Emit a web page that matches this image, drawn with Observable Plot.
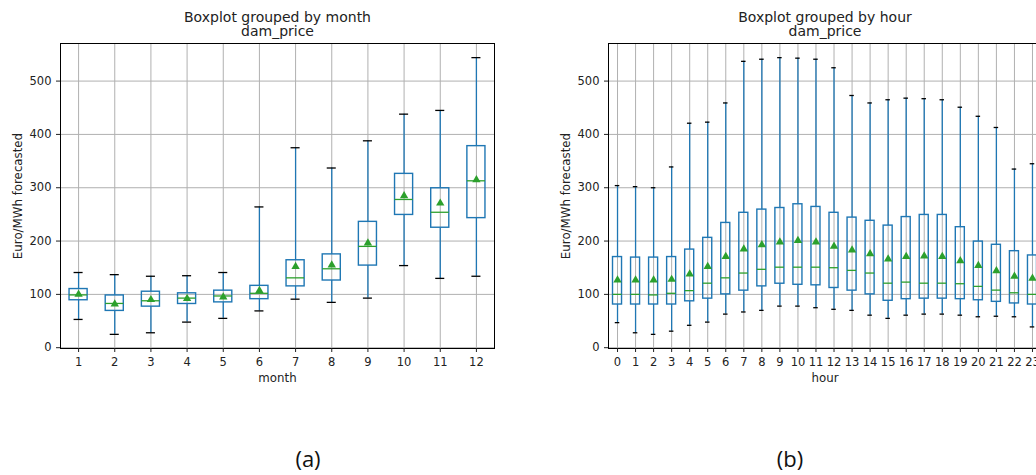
<!DOCTYPE html>
<html><head><meta charset="utf-8">
<script src="https://cdn.jsdelivr.net/npm/d3@7"></script>
<script src="https://cdn.jsdelivr.net/npm/@observablehq/plot@0.6"></script>
<style>
body{margin:0;background:#fff;}
#wrap{position:relative;width:1036px;height:475px;overflow:hidden;background:#fff;}
#a{position:absolute;left:0;top:0;width:520px;}
#b{position:absolute;left:520px;top:0;width:547px;}
#wrap svg{max-width:none !important;}
.cap{position:absolute;top:443px;font-family:"Open Sans",sans-serif;font-size:22px;line-height:30px;color:#111;transform:translateX(-50%);}
</style></head>
<body><div id="wrap"><div id="a"></div><div id="b"></div>
<div class="cap" style="left:308px">(a)</div><div class="cap" style="left:790px">(b)</div></div>
<script>
// ---- Data ----
const months = [1,2,3,4,5,6,7,8,9,10,11,12];
const monthLow  = [53, 25, 28, 48, 55, 69, 91, 85, 93, 154, 130, 134];
const monthQ1   = [89, 69, 77, 82, 85, 91, 115, 126, 154, 249, 225, 243];
const monthMed  = [99, 83, 88, 93, 97, 102, 131, 148, 190, 278, 254, 313];
const monthQ3   = [110, 98, 105, 102, 107, 116, 164, 175, 236, 326, 299, 378];
const monthHigh = [141, 137, 134, 135, 141, 264, 375, 337, 388, 438, 445, 544];
const monthMean = [100, 82, 90, 92, 95, 107, 152, 155, 196, 285, 271, 315];

const hours = [0,1,2,3,4,5,6,7,8,9,10,11,12,13,14,15,16,17,18,19,20,21,22,23];
const hourLow  = [47, 28, 25, 31, 42, 48, 63, 67, 70, 78, 78, 75, 72, 70, 61, 55, 61, 63, 63, 61, 58, 59, 58, 39];
const hourQ1   = [81, 81, 81, 81, 87, 92, 100, 107, 115, 120, 118, 117, 112, 107, 100, 88, 91, 92, 92, 91, 89, 86, 83, 81];
const hourMed  = [100, 100, 99, 102, 107, 121, 131, 140, 147, 151, 151, 151, 150, 145, 140, 121, 123, 121, 121, 120, 115, 108, 103, 100];
const hourQ3   = [170, 169, 169, 170, 184, 206, 234, 253, 259, 262, 269, 264, 253, 244, 238, 229, 245, 249, 249, 226, 199, 193, 181, 173];
const hourHigh = [304, 302, 300, 339, 421, 423, 459, 537, 541, 544, 543, 541, 525, 473, 459, 465, 468, 467, 465, 451, 434, 413, 335, 345];
const hourMean = [127, 127, 127, 128, 138, 152, 171, 185, 193, 198, 201, 198, 190, 183, 176, 166, 171, 172, 171, 163, 154, 144, 134, 130];

const yTicks = [0, 100, 200, 300, 400, 500];

function boxChart({cats, low, q1, med, q3, high, mean, width, marginLeft, marginRight, xDomain, title, xLabel}) {
  const data = cats.map((c, i) => ({c, low: low[i], q1: q1[i], med: med[i], q3: q3[i], high: high[i], mean: mean[i]}));
  const blue = "#1f77b4", green = "#2ca02c";
  return Plot.plot({
    width, height: 400,
    marginLeft, marginRight, marginTop: 43, marginBottom: 52,
    style: {fontFamily: "DejaVu Sans", fontSize: "11.5px", color: "#222", background: "white", overflow: "visible", maxWidth: "none"},
    x: {domain: xDomain},
    y: {domain: [-1.5, 570.5]},
    marks: [
      Plot.gridX({ticks: cats, stroke: "#b0b0b0", strokeOpacity: 1, strokeWidth: 1}),
      Plot.gridY({ticks: yTicks, stroke: "#b0b0b0", strokeOpacity: 1, strokeWidth: 1}),
      Plot.ruleX(data, {x: "c", y1: "low", y2: "q1", stroke: blue, strokeWidth: 1.3}),
      Plot.ruleX(data, {x: "c", y1: "q3", y2: "high", stroke: blue, strokeWidth: 1.3}),
      Plot.rect(data, {x1: d => d.c - 0.25, x2: d => d.c + 0.25, y1: "q1", y2: "q3", fill: "none", stroke: blue, strokeWidth: 1.4}),
      Plot.ruleY(data, {y: "low", x1: d => d.c - 0.125, x2: d => d.c + 0.125, stroke: "black", strokeWidth: 1.3}),
      Plot.ruleY(data, {y: "high", x1: d => d.c - 0.125, x2: d => d.c + 0.125, stroke: "black", strokeWidth: 1.3}),
      Plot.ruleY(data, {y: "med", x1: d => d.c - 0.25, x2: d => d.c + 0.25, stroke: green, strokeWidth: 1.3}),
      Plot.dot(data, {x: "c", y: "mean", symbol: "triangle", fill: green, stroke: "none", r: 3.1}),
      Plot.frame({stroke: "black", strokeWidth: 1}),
      Plot.axisY({ticks: yTicks, tickSize: 4, tickPadding: 5, label: null, fontSize: 11.5}),
      Plot.axisX({ticks: cats, tickSize: 4, tickPadding: 5, label: null, tickFormat: d => String(d), fontSize: 11.5}),
      Plot.text([title[0]], {frameAnchor: "top", dy: -26, lineAnchor: "middle", textAnchor: "middle", fontSize: 14, fill: "#222"}),
      Plot.text([title[1]], {frameAnchor: "top", dy: -12, lineAnchor: "middle", textAnchor: "middle", fontSize: 14, fill: "#222"}),
      Plot.text([xLabel], {frameAnchor: "bottom", dy: 30, lineAnchor: "middle", textAnchor: "middle", fontSize: 11.8, fill: "#222"}),
      Plot.text(["Euro/MWh forecasted"], {frameAnchor: "left", dx: -42, rotate: -90, lineAnchor: "middle", textAnchor: "middle", fontSize: 11.8, fill: "#222"})
    ]
  });
}

document.getElementById("a").append(boxChart({
  cats: months, low: monthLow, q1: monthQ1, med: monthMed, q3: monthQ3, high: monthHigh, mean: monthMean,
  width: 520, marginLeft: 60, marginRight: 26, xDomain: [0.5, 12.5],
  title: ["Boxplot grouped by month", "dam_price"], xLabel: "month"
}));
document.getElementById("b").append(boxChart({
  cats: hours, low: hourLow, q1: hourQ1, med: hourMed, q3: hourQ3, high: hourHigh, mean: hourMean,
  width: 547, marginLeft: 88, marginRight: 26, xDomain: [-0.5, 23.5],
  title: ["Boxplot grouped by hour", "dam_price"], xLabel: "hour"
}));
</script>
</body></html>
